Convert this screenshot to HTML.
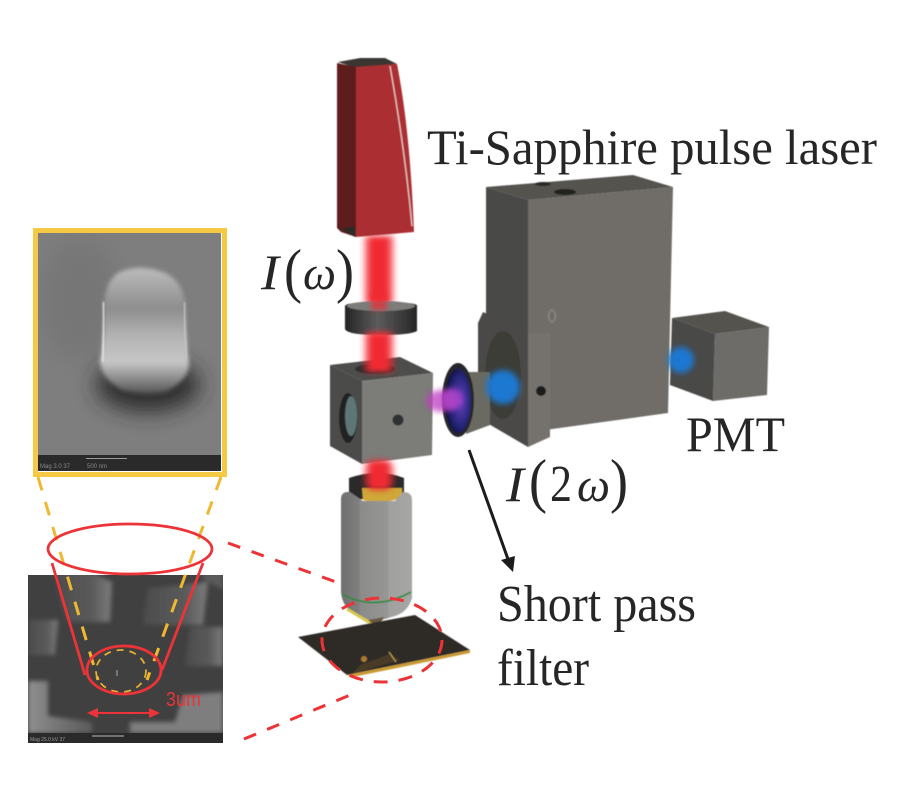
<!DOCTYPE html>
<html><head><meta charset="utf-8"><style>html,body{margin:0;padding:0;background:#fff}svg{display:block}text{font-family:"Liberation Serif",serif;fill:#262626}</style></head>
<body>
<svg width="900" height="800" viewBox="0 0 900 800" xmlns="http://www.w3.org/2000/svg">
<defs>
<filter id="b05"><feGaussianBlur stdDeviation="0.5"/></filter>
<filter id="b04"><feGaussianBlur stdDeviation="0.35"/></filter>
<filter id="b1"><feGaussianBlur stdDeviation="1"/></filter>
<filter id="b2" x="-30%" y="-30%" width="160%" height="160%"><feGaussianBlur stdDeviation="2"/></filter>
<filter id="b3" x="-50%" y="-50%" width="200%" height="200%"><feGaussianBlur stdDeviation="3"/></filter>
<filter id="b6" x="-50%" y="-50%" width="200%" height="200%"><feGaussianBlur stdDeviation="6"/></filter>
<filter id="b10" x="-50%" y="-50%" width="200%" height="200%"><feGaussianBlur stdDeviation="11"/></filter>
<filter id="bB" x="-50%" y="-50%" width="200%" height="200%"><feGaussianBlur stdDeviation="2.5"/></filter>
<linearGradient id="obj" x1="0" x2="1" y1="0" y2="0"><stop offset="0" stop-color="#6f6f6f"/><stop offset=".26" stop-color="#808080"/><stop offset=".27" stop-color="#8b8b8a"/><stop offset=".66" stop-color="#969694"/><stop offset=".67" stop-color="#a0a09e"/><stop offset="1" stop-color="#a6a6a4"/></linearGradient>
<linearGradient id="lens" x1="0" x2="1" y1="0" y2="0"><stop offset="0" stop-color="#242424"/><stop offset=".45" stop-color="#5c5c5c"/><stop offset="1" stop-color="#262626"/></linearGradient>
<radialGradient id="filt" cx=".6" cy=".5" r=".6"><stop offset="0" stop-color="#6a3fc0"/><stop offset=".65" stop-color="#26267a"/><stop offset="1" stop-color="#10103a"/></radialGradient>
<linearGradient id="pil" x1="0" x2="0" y1="0" y2="1"><stop offset="0" stop-color="#bcbcbc"/><stop offset=".18" stop-color="#a2a2a2"/><stop offset=".32" stop-color="#8e8e8e"/><stop offset=".55" stop-color="#b4b4b4"/><stop offset=".75" stop-color="#c6c6c6"/><stop offset="1" stop-color="#555"/></linearGradient>
<linearGradient id="sq1" x1="0" x2="1" y1="0" y2="0"><stop offset="0" stop-color="#4c4c4c"/><stop offset=".65" stop-color="#5a5a5a"/><stop offset="1" stop-color="#7c7c7c"/></linearGradient>
<linearGradient id="sq2" x1="0" x2="1" y1="0" y2="0"><stop offset="0" stop-color="#8e8e8e"/><stop offset="1" stop-color="#5a5a5a"/></linearGradient>
<clipPath id="c1"><rect x="38" y="233" width="183" height="238"/></clipPath>
<clipPath id="c2"><rect x="28" y="575" width="195" height="168"/></clipPath>
</defs>

<!-- upper SEM inset -->
<g clip-path="url(#c1)">
<rect x="38" y="233" width="183" height="238" fill="#7e7e7e"/>
<ellipse cx="80" cy="300" rx="40" ry="60" fill="#707070" opacity=".5" filter="url(#b10)"/>
<ellipse cx="148" cy="385" rx="52" ry="27" fill="#2c2c2c" opacity=".95" filter="url(#b10)"/>
<path d="M100 360Q104 345 104 305Q106 275 125 270Q142 265 160 271Q183 278 185 305Q186 345 189 362Q190 380 165 392Q145 396 122 390Q100 378 100 360Z" fill="url(#pil)" filter="url(#b2)"/>
<path d="M102 362Q105 335 104 302" stroke="#e4e4e4" stroke-width="2.500" fill="none" filter="url(#b1)"/>
<path d="M187 360Q184 330 184 302" stroke="#ccc" stroke-width="2" fill="none" filter="url(#b1)"/>
<rect x="38" y="455" width="183" height="16" fill="#2a2a2a"/>
<path d="M86 458.500H127" stroke="#999" stroke-width="1"/>
</g>
<rect x="35.500" y="230.500" width="189" height="244" fill="none" stroke="#f6c945" stroke-width="5"/>
<text x="40" y="468" font-size="6" style="font-family:'Liberation Sans',sans-serif;fill:#888">Mag 3.0 37</text>
<text x="87" y="468" font-size="6" style="font-family:'Liberation Sans',sans-serif;fill:#888">500 nm</text>

<!-- lower SEM inset -->
<g clip-path="url(#c2)">
<rect x="28" y="575" width="195" height="168" fill="#404040"/>
<g filter="url(#b2)">
<path d="M55 572H90L112 582L110 622H68L60 600Z" fill="url(#sq1)"/>
<path d="M148 588L208 582L203 625H143Z" fill="url(#sq1)"/>
<path d="M200 572H223V590L205 580Z" fill="#5a5a5a"/>
<path d="M28 620H58L55 655H28Z" fill="url(#sq1)"/>
<path d="M190 627H223V666H185Z" fill="url(#sq1)"/>
<path d="M28 681H48V716L92 722V733H28Z" fill="url(#sq2)"/>
<path d="M183 695L223 692V733H130V722H175Z" fill="#7e7e7e"/>
</g>
<rect x="28" y="733" width="195" height="10" fill="#2a2a2a"/>
<path d="M92 736H124" stroke="#bbb" stroke-width="1"/>
</g>
<text x="30" y="741" font-size="5" style="font-family:'Liberation Sans',sans-serif;fill:#999">Mag 25.0 kV 37</text>

<!-- gold dashes -->
<g fill="none" stroke="#f0b830" stroke-width="3" stroke-dasharray="14 12">
<path d="M38 477L98 680"/>
<path d="M221 477L147 680"/>
</g>
<ellipse cx="121" cy="671" rx="25" ry="21" fill="none" stroke="#e8b030" stroke-width="1.800" stroke-dasharray="7 6"/>
<rect x="116" y="670" width="2" height="6" fill="#777"/>

<!-- red annotation -->
<g fill="none" stroke="#ec3337" stroke-width="2.800">
<ellipse cx="130" cy="549" rx="82" ry="25"/>
<path d="M52 563L85 675M203 563L162 670"/>
<ellipse cx="124" cy="670" rx="37" ry="24"/>
<path d="M90 713H157" stroke-width="2"/>
</g>
<path d="M87 713L98 708V718ZM160 713L149 708V718Z" fill="#ec3337"/>
<text x="166" y="706" font-size="20" textLength="35" lengthAdjust="spacingAndGlyphs" style="font-family:'Liberation Sans',sans-serif;fill:#ec3337">3um</text>
<g fill="none" stroke="#ec3337" stroke-width="3" stroke-dasharray="13 12">
<path d="M228 543L372 595"/>
<path d="M244 739L355 693"/>
</g>

<!-- beam upper -->
<g fill="#f02a30" filter="url(#b3)">
<rect x="364" y="236" width="30" height="68" opacity=".6"/>
<rect x="369" y="236" width="20" height="68"/>
</g>

<!-- laser -->
<g filter="url(#b05)">
<path d="M338 62L360 58H385L397 64L356 68Z" fill="#3a3533"/>
<path d="M337 63L356 67V237L341 232L337 228Z" fill="#5f1f1f"/>
<path d="M356 67L397 64Q410 130 414 232L356 237Z" fill="#ab2e31"/>
<path d="M390 66Q405 150 412 226" stroke="#e8c4c0" stroke-width="1.300" fill="none"/>
<path d="M341 229L355 226V237Z" fill="#2c2a28"/>
</g>

<!-- lens -->
<g filter="url(#b05)">
<path d="M345 306Q346 302 380 302Q418 302 417 306V331Q410 335 380 335Q347 335 345 329Z" fill="url(#lens)"/>
<ellipse cx="381" cy="306" rx="34" ry="5" fill="#7c7c7a"/>
</g>
<rect x="371" y="294" width="16" height="16" fill="#f02a30" opacity=".7" filter="url(#bB)"/>

<!-- cube -->
<g filter="url(#b05)">
<path d="M330 365L400 357L433 373L362 381Z" fill="#4d4d4b"/>
<path d="M362 381L433 373L432 455L362 464Z" fill="#7b7b78"/>
<path d="M330 365L362 381V464L330 446Z" fill="#4c4c4a"/>
<ellipse cx="348" cy="418" rx="9" ry="25" fill="#222"/>
<ellipse cx="351" cy="416" rx="6" ry="20" fill="#5e7676"/>
<circle cx="398" cy="420" r="5.500" fill="#2d3232"/>
<ellipse cx="375" cy="369" rx="20" ry="5" fill="#2e2e2e"/>
</g>
<g fill="#f02a30" filter="url(#b3)">
<rect x="364" y="332" width="30" height="40" opacity=".6"/>
<rect x="369" y="332" width="20" height="40"/>
</g>

<!-- objective -->
<g filter="url(#b05)">
<path d="M349 478Q378 468 404 478V496L349 500Z" fill="#2a2a2a"/>
<path d="M362 488H402V498Q380 505 363 500Z" fill="#cfa838"/>
<path d="M341 498Q342 491 350 492L363 501H395L403 492Q412 492 412 500V598Q408 612 395 616L375 622L358 616Q342 608 341 592Z" fill="url(#obj)"/>
<path d="M342 594Q375 612 411 592" stroke="#2f8a3c" stroke-width="1.800" fill="none"/>
<path d="M347 609L372 624" stroke="#d6c84a" stroke-width="3"/>
<path d="M368 620L384 617L378 628Z" fill="#6a5a40"/>
</g>
<g fill="#f02a30" filter="url(#b3)">
<rect x="364" y="460" width="30" height="30" opacity=".6" rx="8"/>
<rect x="369" y="460" width="20" height="30" rx="6"/>
</g>

<!-- sample -->
<g filter="url(#b05)">
<path d="M298 637L415 615L470 650L347 675Z" fill="#2f2a26"/>
<path d="M470 650V653L353 677L347 675Z" fill="#c99a35"/>
<path d="M360 665L390 654L400 660L352 674Z" fill="#4a3a25"/>
<circle cx="364" cy="659" r="3" fill="#a87a30"/>
<path d="M389 652L396 662" stroke="#c9b060" stroke-width="1"/>
</g>
<ellipse cx="382" cy="640" rx="60" ry="42" fill="none" stroke="#ec3337" stroke-width="3" stroke-dasharray="14 11"/>

<!-- detector -->
<g filter="url(#b05)">
<path d="M486 187L633 175L673 187L528 200Z" fill="#55534e"/>
<ellipse cx="543" cy="184" rx="8" ry="2" fill="#2a2926"/>
<ellipse cx="565" cy="192" rx="11" ry="3" fill="#22211f"/>
<path d="M528 200L673 187L668 413L545 430L528 340Z" fill="#6f6d68"/>
<path d="M486 187L528 200V335L486 315Z" fill="#4a4946"/>
<path d="M483 312L528 333L532 347L528 447L487 423L478 383L478 323Z" fill="#4b4a47"/>
<path d="M528 333L550 333V437L528 447Z" fill="#74726d"/>
<ellipse cx="503" cy="375" rx="18" ry="44" fill="#3d3c39"/>
<circle cx="541" cy="391" r="5" fill="#1f1f1e"/>
<ellipse cx="552" cy="316" rx="3.500" ry="6" fill="none" stroke="#8a8883" stroke-width="1.300"/>
</g>

<!-- filter holder -->
<g filter="url(#b05)">
<path d="M466 372H490V425L466 434Z" fill="#6b6a64"/>
<ellipse cx="458" cy="400" rx="16" ry="37" fill="#25252a"/>
<ellipse cx="458" cy="401" rx="13" ry="32" fill="url(#filt)"/>
</g>
<ellipse cx="441" cy="401" rx="15" ry="11" fill="#c03ec4" opacity=".75" filter="url(#b3)"/>
<ellipse cx="452" cy="399" rx="10" ry="11" fill="#b045c8" opacity=".85" filter="url(#b3)"/>

<!-- pmt -->
<g filter="url(#b05)">
<path d="M672 318L725 311L769 327L715 334Z" fill="#55534e"/>
<path d="M715 334L769 327L767 395L713 401Z" fill="#6e6c67"/>
<path d="M672 318L715 334L713 401L670 385Z" fill="#4a4946"/>
</g>
<circle cx="503" cy="387" r="17" fill="#1e78d0" filter="url(#b3)"/>
<circle cx="681" cy="360" r="13" fill="#1e78d0" filter="url(#b3)"/>

<!-- arrow -->
<path d="M469 450L509 562" stroke="#1c1c1c" stroke-width="3" fill="none"/>
<path d="M501 560L515 556L513 572Z" fill="#1c1c1c"/>

<!-- labels -->
<g filter="url(#b04)">
<text x="427" y="164" font-size="50" textLength="450" lengthAdjust="spacingAndGlyphs">Ti-Sapphire pulse laser</text>
<text x="686" y="451" font-size="50" textLength="99" lengthAdjust="spacingAndGlyphs">PMT</text>
<text x="497" y="621" font-size="52" textLength="199" lengthAdjust="spacingAndGlyphs">Short pass</text>
<text x="497" y="685" font-size="52" textLength="92" lengthAdjust="spacingAndGlyphs">filter</text>
<text x="261" y="289" font-size="50" font-style="italic" textLength="18" lengthAdjust="spacingAndGlyphs">I</text>
<text x="284" y="291" font-size="60" textLength="18" lengthAdjust="spacingAndGlyphs">(</text>
<text x="303" y="289" font-size="48" font-style="italic" textLength="33" lengthAdjust="spacingAndGlyphs">ω</text>
<text x="336" y="291" font-size="60" textLength="18" lengthAdjust="spacingAndGlyphs">)</text>
<text x="506" y="501" font-size="50" font-style="italic" textLength="18" lengthAdjust="spacingAndGlyphs">I</text>
<text x="529" y="501" font-size="60" textLength="18" lengthAdjust="spacingAndGlyphs">(</text>
<text x="550" y="501" font-size="52" textLength="22" lengthAdjust="spacingAndGlyphs">2</text>
<text x="577" y="501" font-size="48" font-style="italic" textLength="33" lengthAdjust="spacingAndGlyphs">ω</text>
<text x="610" y="501" font-size="60" textLength="18" lengthAdjust="spacingAndGlyphs">)</text>
</g>
</svg>
</body></html>
